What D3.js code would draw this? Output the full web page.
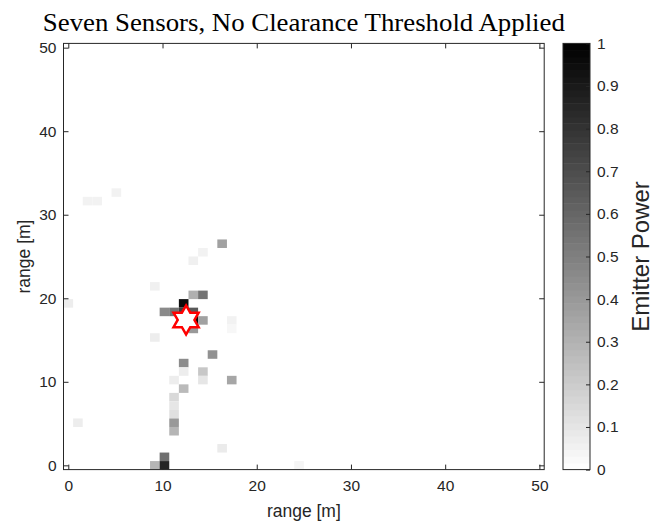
<!DOCTYPE html>
<html>
<head>
<meta charset="utf-8">
<script src="https://cdn.jsdelivr.net/npm/d3@7"></script>
<style>
  html, body { margin: 0; padding: 0; background: #fff; }
  svg { display: block; }
</style>
</head>
<body>
<div id="chart"></div>
<script>
// sensor grid: 50 x 50 cells spanning 0..50 m
const GRID_N = 50;
const GRID_MAX = 50;

// non-zero cells (grid column, grid row, normalised emitter power)
const cellCol = [5, 2, 3, 0, 1, 16, 14, 13, 9, 13, 14, 12, 10, 11, 12, 13, 13, 14, 17, 13, 17, 9, 15, 12, 12, 14, 11, 14, 17, 12, 11, 11, 11, 11, 11, 16, 10, 9, 10, 24];
const cellRow = [32, 31, 31, 19, 5, 26, 25, 24, 21, 20, 20, 19, 18, 18, 18, 18, 17, 17, 17, 16, 16, 15, 13, 12, 11, 11, 10, 10, 10, 9, 8, 7, 6, 5, 4, 2, 1, 0, 0, 0];
const cellPower = [0.05, 0.05, 0.05, 0.07, 0.07, 0.37, 0.05, 0.06, 0.06, 0.31, 0.55, 0.95, 0.46, 0.55, 0.75, 0.65, 0.97, 0.37, 0.05, 0.40, 0.03, 0.07, 0.43, 0.45, 0.07, 0.22, 0.07, 0.10, 0.35, 0.27, 0.15, 0.10, 0.12, 0.40, 0.29, 0.08, 0.56, 0.29, 0.86, 0.04];

// true emitter location [m]
const emitterX = 12.5;
const emitterY = 17.4;

const axisTicks = [0, 10, 20, 30, 40, 50];
const cbTicks = [0, 0.1, 0.2, 0.3, 0.4, 0.5, 0.6, 0.7, 0.8, 0.9, 1];

const W = 653, H = 521;
const axL = 63.5, axR = 544.2, axT = 43.4, axB = 469.6;
const cbL = 563, cbR = 590;
const ink = '#262626';

const step = GRID_MAX / (GRID_N - 1);
const half = step / 2;

const x = d3.scaleLinear().domain([-half, GRID_MAX + half]).range([axL, axR]);
const y = d3.scaleLinear().domain([-half, GRID_MAX + half]).range([axB, axT]);
const color = d3.scaleLinear().domain([0, 1]).range(['#ffffff', '#000000']);
const cbY = d3.scaleLinear().domain([0, 1]).range([axB, axT]);

const svg = d3.select('#chart').append('svg')
  .attr('width', W).attr('height', H)
  .style('font-family', '"Liberation Sans", Arial, sans-serif');

// heatmap cells
const cells = d3.range(cellPower.length).map(i => ({ c: cellCol[i], r: cellRow[i], v: cellPower[i] }));
svg.append('g').selectAll('rect').data(cells).join('rect')
  .attr('x', d => x(d.c * step - half))
  .attr('y', d => y(d.r * step + half))
  .attr('width', d => x(d.c * step + half) - x(d.c * step - half))
  .attr('height', d => y(d.r * step - half) - y(d.r * step + half))
  .attr('fill', d => color(d.v));

// emitter hexagram
const R = 14.5, r = R / Math.sqrt(3);
const hexagram = d3.lineRadial().curve(d3.curveLinearClosed)(
  d3.range(12).map(k => [k * Math.PI / 6, k % 2 ? r : R]));
svg.append('path')
  .attr('d', hexagram)
  .attr('transform', `translate(${x(emitterX)},${y(emitterY)})`)
  .attr('fill', '#fff').attr('stroke', '#ff0000').attr('stroke-width', 2.5)
  .attr('stroke-linejoin', 'miter');

// axes (ticks inside, on all four sides)
function styleAxis(g) {
  g.select('.domain').remove();
  g.selectAll('line').attr('stroke', ink);
  g.selectAll('text').attr('fill', ink).style('font-size', '15.5px');
}
svg.append('g').attr('transform', `translate(0,${axB})`)
  .call(d3.axisBottom(x).tickValues(axisTicks).tickSize(-5).tickPadding(10))
  .call(styleAxis);
svg.append('g').attr('transform', `translate(0,${axT})`)
  .call(d3.axisTop(x).tickValues(axisTicks).tickSize(-5).tickFormat(''))
  .call(styleAxis);
svg.append('g').attr('transform', `translate(${axL},0)`)
  .call(d3.axisLeft(y).tickValues(axisTicks).tickSize(-5).tickPadding(7))
  .call(styleAxis);
svg.append('g').attr('transform', `translate(${axR},0)`)
  .call(d3.axisRight(y).tickValues(axisTicks).tickSize(-5).tickFormat(''))
  .call(styleAxis);

svg.append('rect')
  .attr('x', axL).attr('y', axT).attr('width', axR - axL).attr('height', axB - axT)
  .attr('fill', 'none').attr('stroke', ink).attr('stroke-width', 1);

// labels
svg.append('text')
  .attr('x', (axL + axR) / 2).attr('y', 517)
  .attr('text-anchor', 'middle').attr('fill', ink).style('font-size', '17.5px')
  .text('range [m]');
svg.append('text')
  .attr('transform', `translate(30,${(axT + axB) / 2}) rotate(-90)`)
  .attr('text-anchor', 'middle').attr('fill', ink).style('font-size', '17.5px')
  .text('range [m]');

svg.append('text')
  .attr('x', (axL + axR) / 2).attr('y', 31)
  .attr('text-anchor', 'middle')
  .attr('textLength', 522).attr('lengthAdjust', 'spacingAndGlyphs')
  .style('font-family', '"Liberation Serif", "Times New Roman", serif')
  .style('font-size', '25px')
  .attr('fill', '#000')
  .text('Seven Sensors, No Clearance Threshold Applied');

// colorbar: 64 discrete levels
const levels = d3.range(64);
svg.append('g').selectAll('rect').data(levels).join('rect')
  .attr('x', cbL).attr('width', cbR - cbL)
  .attr('y', d => cbY((d + 1) / 64))
  .attr('height', d => cbY(d / 64) - cbY((d + 1) / 64) + 0.5)
  .attr('fill', d => color((d + 0.5) / 64));
svg.append('g').attr('transform', `translate(${cbR},0)`)
  .call(d3.axisRight(cbY).tickValues(cbTicks).tickSize(-4).tickPadding(7)
    .tickFormat(d => d === 0 || d === 1 ? d3.format('d')(d) : d3.format('.1f')(d)))
  .call(styleAxis);
svg.append('rect')
  .attr('x', cbL).attr('y', axT).attr('width', cbR - cbL).attr('height', axB - axT)
  .attr('fill', 'none').attr('stroke', ink).attr('stroke-width', 1);

svg.append('text')
  .attr('transform', `translate(649,${(axT + axB) / 2}) rotate(-90)`)
  .attr('text-anchor', 'middle').attr('fill', ink).style('font-size', '24px')
  .text('Emitter Power');
</script>
</body>
</html>
